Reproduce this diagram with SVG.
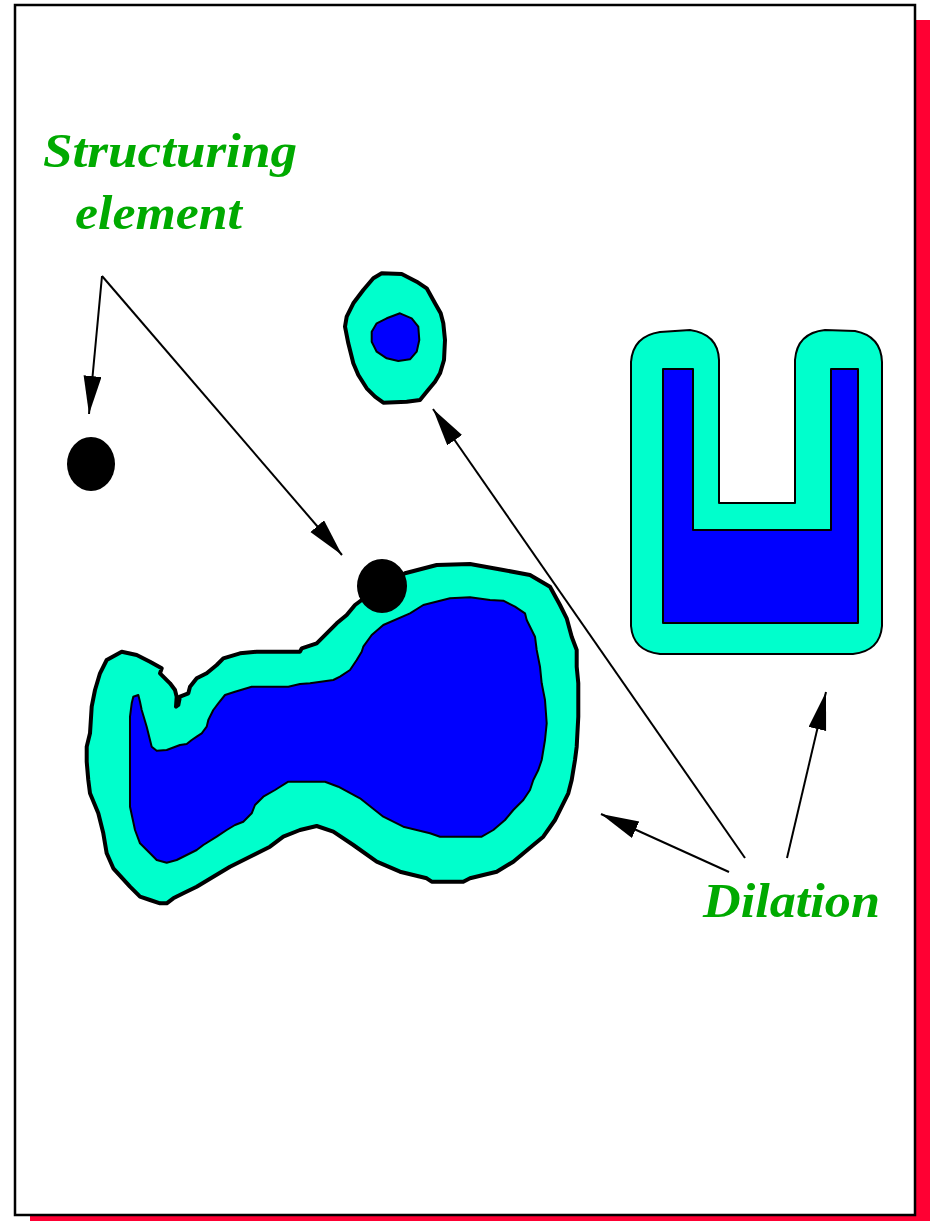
<svg xmlns="http://www.w3.org/2000/svg" width="930" height="1221" viewBox="0 0 930 1221">
<style>
.lbl{font-family:"Liberation Serif","Times New Roman",serif;font-weight:bold;font-style:italic;font-size:48px;fill:#00aa00}
.conn{stroke:#000;stroke-width:2;fill:none;marker-end:url(#ah)}
.outer{fill:#00ffcc;stroke:#000;stroke-width:4;stroke-linejoin:round}
.inner{fill:#0000ff;stroke:#000;stroke-width:2;stroke-linejoin:round}
.se{fill:#000}
</style>
<defs>
<marker id="ah" markerUnits="userSpaceOnUse" markerWidth="40" markerHeight="20" refX="38" refY="9" orient="auto">
<path d="M0,0 L38,9 L0,18 Z" fill="#000"/>
</marker>
</defs>
<rect x="30" y="20" width="900" height="1201" fill="#ff0033"/>
<rect x="15" y="5" width="900" height="1210" fill="#fff" stroke="#000" stroke-width="2.5"/>

<g id="blob-large">
<path class="outer" d="M405,573.3 L436.7,565 L470,564 L503.3,570 L530,575 L550,586.7 L560,605 L566.7,618.3 L571.7,636.7 L576.7,650 L576.7,666.7 L578.3,683.3 L578.3,716.7 L576.7,746.7 L575,760 L571.7,780 L568.3,793.3 L561.7,806.7 L555,820 L543.3,836.7 L533.3,845 L513.3,861.7 L496.7,871.7 L470,878.3 L463.3,881.7 L431.7,881.7 L426.7,878.3 L400,871.7 L376.7,861.7 L353.3,845 L333.3,831.7 L316.7,826 L300,830 L283.3,836.7 L270,846.7 L250,856.7 L230,866.7 L213.3,876.7 L196.7,886.7 L183.3,893.3 L173.3,898.3 L166.7,903.3 L160,903.3 L150,900 L140,896.7 L130,886.7 L113.3,868.3 L106.7,853.3 L103.3,833.3 L98.3,813.3 L90,793.3 L88.3,780 L86.7,761.7 L86.7,746.7 L90,733.3 L91.7,706.7 L95,690 L100,673.3 L106.7,660 L121.7,651.7 L136.7,655 L150,661.7 L161.7,668.3 L160,673.3 L170,683.3 L175,690 L176.7,696.7 L176,706.7 L178.3,705 L180,696.7 L188.3,693.3 L190,686.7 L196.7,678.3 L206.7,673.3 L216.7,665 L223.3,658.3 L240,653.3 L256.7,651.7 L300,651.7 L301.7,648.3 L316.7,643.3 L326.7,633.3 L336.7,623.3 L346.7,615 L355,605 L361.7,600 L383,586 Z"/>
<path class="inner" d="M383.3,625 L410,613.3 L423.3,605 L450,598.3 L470,597.3 L490,600 L503.3,600.7 L515,606.7 L525,613.3 L526.7,620 L535,636.7 L536.7,650 L540,666.7 L541.7,683.3 L545,700 L546.7,723.3 L545,740 L541.7,760 L538.3,770 L533.3,780 L530,790 L523.3,800 L513.3,810 L505,820 L493.3,830 L481.7,836.7 L440,836.7 L430,833.3 L403.3,826.7 L383.3,816.7 L360,798.3 L338.3,786.7 L325,781.7 L288.3,781.7 L275,790 L263.3,796.7 L255,805 L251.7,813.3 L243.3,821.7 L235,825 L226.7,830 L216.7,836.7 L203.3,845 L196.7,850 L176.7,860 L166.7,862.7 L156.7,860 L150,853.3 L140,843.3 L135,830 L130,806.7 L130,716.7 L131.7,703.3 L133.3,696.7 L138.3,695 L140,701.7 L141.7,710 L146.7,726.7 L150,740 L151.7,746.7 L156.7,750.7 L166.7,750 L180,745 L186.7,744 L191.7,740 L196.7,736.7 L201.7,733.3 L206.7,726.7 L208.3,720 L213.3,710 L218.3,703.3 L225,695 L235,691.7 L251.7,686.7 L288.3,686.7 L300,684 L310,683.3 L333.3,680 L340,676.7 L350,670 L356.7,660 L361.7,651.7 L363.3,646.7 L371.7,635 Z"/>
</g>

<g id="blob-small">
<path class="outer" d="M381.7,273.3 L401.7,274 L416.7,281.7 L426.7,288.3 L435,303.3 L440.7,313.3 L443.3,323.3 L445,340 L444,360 L440,373.3 L435,381.7 L426.7,391.7 L420,400 L406.7,401.7 L383.3,402.7 L375,396.7 L366.7,388.3 L358.3,375 L353.3,363.3 L351.7,356.7 L348.3,343.3 L345,326.7 L346.7,316.7 L353.3,303.3 L363.3,290 L373.3,278.3 Z"/>
<path class="inner" d="M371.7,331.7 L376.7,323.3 L386.7,318.3 L400,313.3 L411.7,318.3 L418.3,326.7 L419.3,340 L416.7,351.7 L410,359.3 L398.3,361 L386.7,358.3 L376.7,351.7 L371.7,341.7 Z"/>
</g>

<g id="u-shape">
<path fill="#00ffcc" stroke="#000" stroke-width="2" stroke-linejoin="round" d="M631,362 Q633,336 660,332 L690,330 Q718,334 719,360 V503 H795 V360 Q797,333 825,330 L855,331 Q881,336 882,362 V626 Q880,651 853,654 H660 Q633,651 631,626 Z"/>
<path class="inner" d="M663,369 H693 V530 H831 V369 H858 V623 H663 Z"/>
</g>

<g id="se-free">
<ellipse class="se" cx="91" cy="464" rx="24" ry="27"/>
</g>
<g id="se-on-blob">
<ellipse class="se" cx="382" cy="586" rx="25" ry="27"/>
</g>

<g id="connectors">
<line class="conn" x1="102" y1="276" x2="89" y2="414"/>
<line class="conn" x1="102" y1="276" x2="342" y2="555"/>
<line class="conn" x1="745" y1="858" x2="433" y2="409"/>
<line class="conn" x1="787" y1="858" x2="826" y2="692"/>
<line class="conn" x1="729" y1="872" x2="601" y2="814"/>
</g>

<g id="label-structuring">
<text class="lbl" x="43" y="167" textLength="254" lengthAdjust="spacingAndGlyphs">Structuring</text>
<text class="lbl" x="75" y="229" textLength="167" lengthAdjust="spacingAndGlyphs">element</text>
</g>
<g id="label-dilation">
<text class="lbl" x="703" y="917" textLength="177" lengthAdjust="spacingAndGlyphs">Dilation</text>
</g>
</svg>
